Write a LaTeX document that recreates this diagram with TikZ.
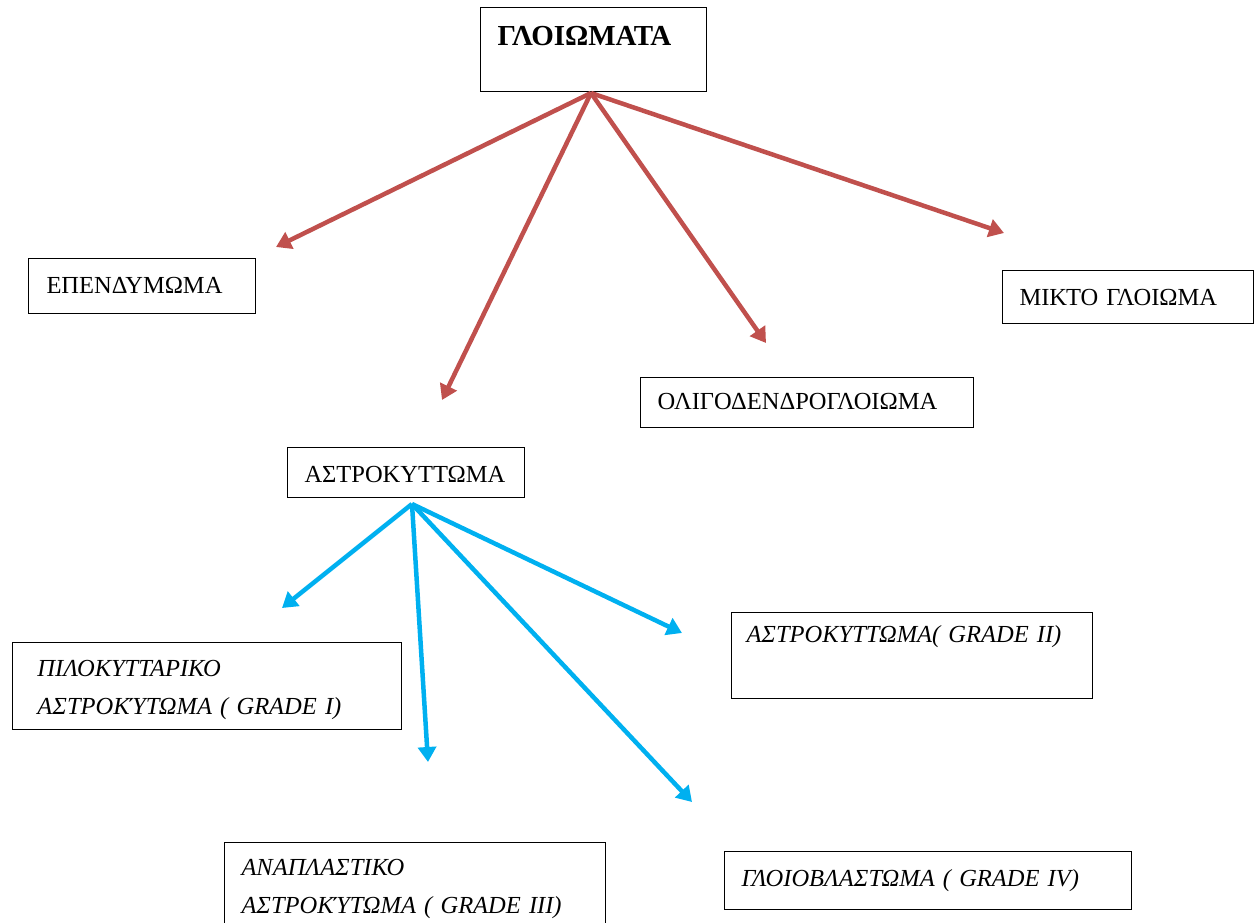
\documentclass[tikz,border=0pt]{standalone}
\usepackage{fontspec}
\setmainfont{Liberation Serif}
\usepackage{tikz}
\usetikzlibrary{arrows.meta}
\definecolor{treered}{HTML}{C0504D}
\definecolor{treeblue}{HTML}{00B0F0}
\tikzset{
	box/.style={draw,line width=1pt,anchor=north west,align=left,inner ysep=0pt,inner xsep=17pt,font=\fontsize{24.5}{38}\selectfont},
	redarrow/.style={treered,line width=4.5pt,-{Triangle[length=15pt,width=18pt]}},
	bluearrow/.style={treeblue,line width=4.5pt,-{Triangle[length=15pt,width=18pt]}}
}

\begin{document}
\begin{tikzpicture}[x=1pt,y=-1pt]
	\useasboundingbox (0,0) rectangle (1254,922);
	% boxes
	\node[box,text width=192pt,text height=38pt,text depth=46pt,font=\fontsize{29}{38}\selectfont\bfseries] (glioma) at (480,7) {ΓΛΟΙΩΜΑΤΑ};
	\node[box,inner xsep=18pt,text width=191pt,text height=35pt,text depth=20pt] (epend) at (28,258) {ΕΠΕΝΔΥΜΩΜΑ};
	\node[box,text width=217pt,text height=35pt,text depth=18pt] (mikto) at (1002,270) {ΜΙΚΤΟ ΓΛΟΙΩΜΑ};
	\node[box,text width=299pt,text height=32pt,text depth=18pt] (oligo) at (640,377) {ΟΛΙΓΟΔΕΝΔΡΟΓΛΟΙΩΜΑ};
	\node[box,text width=203pt,text height=35pt,text depth=15pt] (astro) at (287,447) {ΑΣΤΡΟΚΥΤΤΩΜΑ};
	\node[box,inner xsep=25pt,text width=339pt,text height=34pt,text depth=53pt] (grade1) at (12,642) {\itshape ΠΙΛΟΚΥΤΤΑΡΙΚΟ\\\itshape ΑΣΤΡΟΚΎΤΩΜΑ ( GRADE I)};
	\node[box,inner xsep=15pt,text width=331pt,text height=30pt,text depth=56pt] (grade2) at (731,612) {\itshape ΑΣΤΡΟΚΥΤΤΩΜΑ( GRADE II)};
	\node[box,text width=347pt,text height=33pt,text depth=62pt] (grade3) at (224,842) {\itshape ΑΝΑΠΛΑΣΤΙΚΟ\\\itshape ΑΣΤΡΟΚΎΤΩΜΑ ( GRADE III)};
	\node[box,text width=373pt,text height=35pt,text depth=23pt] (grade4) at (724,851) {\itshape ΓΛΟΙΟΒΛΑΣΤΩΜΑ ( GRADE IV)};
	% arrow ends
	\coordinate (rtop) at (591,93);
	\coordinate (toepend) at (276,247);
	\coordinate (toastro) at (442,400);
	\coordinate (tooligo) at (766,343);
	\coordinate (tomikto) at (1004,233);
	\coordinate (btop) at (412,504);
	\coordinate (togradeI) at (282,608);
	\coordinate (togradeIII) at (428,762);
	\coordinate (togradeIV) at (692,802);
	\coordinate (togradeII) at (682,633);
	\foreach \t in {toepend,toastro,tooligo,tomikto}
		\draw[redarrow] (rtop) -- (\t);
	\foreach \t in {togradeI,togradeIII,togradeIV,togradeII}
		\draw[bluearrow] (btop) -- (\t);
\end{tikzpicture}
\end{document}
